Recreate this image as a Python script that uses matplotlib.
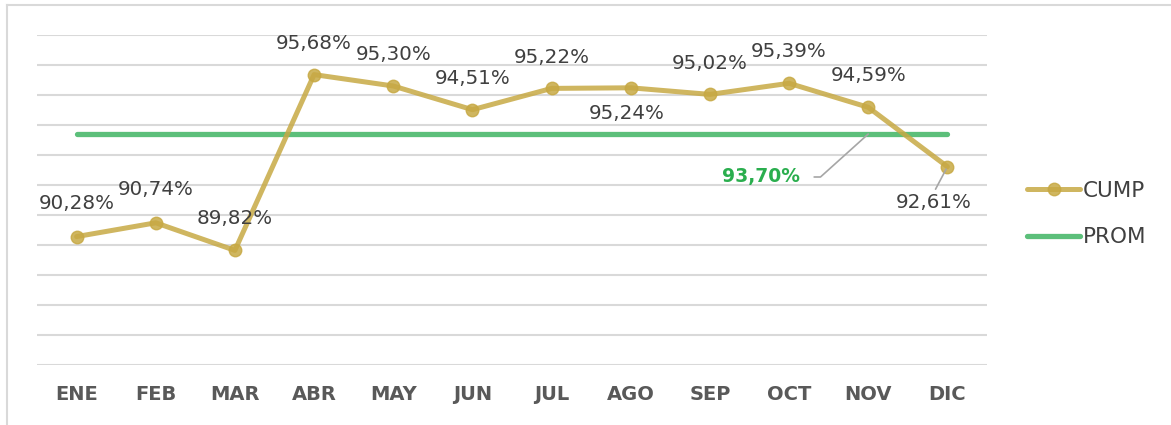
import matplotlib
matplotlib.use("Agg")
import matplotlib.pyplot as plt
from matplotlib.lines import Line2D

months = ["ENE", "FEB", "MAR", "ABR", "MAY", "JUN", "JUL", "AGO", "SEP", "OCT", "NOV", "DIC"]
cump = [90.28, 90.74, 89.82, 95.68, 95.30, 94.51, 95.22, 95.24, 95.02, 95.39, 94.59, 92.61]
prom_value = 93.70
prom = [prom_value] * len(months)

# label offsets in pixels (dx, dy)
offsets = [(0, 33), (0, 33), (0, 32), (0, 31), (0, 31), (0, 31), (0, 31),
           (-4, -26), (0, 31), (0, 32), (0, 32), (-14, -36)]

def fmt(v):
    return f"{v:.2f}".replace(".", ",") + "%"

W, H = 1171, 425
fig = plt.figure(figsize=(W / 100, H / 100), dpi=100)
fig.patch.set_facecolor("white")

# outer border (top and left visible)
fig.add_artist(Line2D([7 / W, 7 / W], [0, 1 - 5 / H], color="#D9D9D9", lw=1.5, transform=fig.transFigure))
fig.add_artist(Line2D([7 / W, 1], [1 - 5 / H, 1 - 5 / H], color="#D9D9D9", lw=1.5, transform=fig.transFigure))

ax = fig.add_axes([37 / W, 1 - 365 / H, (987 - 37) / W, (365 - 35) / H])
ax.set_xlim(-0.5, len(months) - 0.5)
ax.set_ylim(86, 97)
ax.set_yticks(range(86, 98))
ax.yaxis.grid(True, color="#D9D9D9", lw=1.5)
ax.set_axisbelow(True)
for s in ax.spines.values():
    s.set_visible(False)
ax.tick_params(axis="y", left=False, labelleft=False)
ax.tick_params(axis="x", bottom=False, pad=11)
x = list(range(len(months)))
ax.set_xticks(x)
ax.set_xticklabels(months, fontsize=14, fontweight="bold", color="#595959")

gold = "#C7A944"
green = "#5CBF7A"
l_prom, = ax.plot(x, prom, color=green, lw=3.8, solid_capstyle="round", label="PROM", zorder=2)
l_cump, = ax.plot(x, cump, color=gold, lw=3.6, alpha=0.85, marker="o", markersize=9,
                  markerfacecolor=gold, markeredgecolor=gold, solid_capstyle="round",
                  label="CUMP", zorder=3)

lab_fs = 14.3
for i, (v, (dx, dy)) in enumerate(zip(cump, offsets)):
    if i == len(cump) - 1:
        ax.annotate(fmt(v), xy=(i, v), xytext=(dx, dy), textcoords="offset pixels",
                    ha="center", va="center", fontsize=lab_fs, color="#404040",
                    arrowprops=dict(arrowstyle="-", color="#A6A6A6", lw=1.2,
                                    relpos=(0.5, 1.0), shrinkA=1, shrinkB=2), zorder=5)
    else:
        ax.annotate(fmt(v), xy=(i, v), xytext=(dx, dy), textcoords="offset pixels",
                    ha="center", va="center", fontsize=lab_fs, color="#404040", zorder=5)

ax.annotate(fmt(prom_value), xy=(10, prom_value), xytext=(-107, -43), textcoords="offset pixels",
            ha="center", va="center", fontsize=13.5, fontweight="bold", color="#2AAE4E",
            arrowprops=dict(arrowstyle="-", color="#A6A6A6", lw=1.2, relpos=(1.0, 0.5),
                            shrinkA=8, shrinkB=0,
                            connectionstyle="angle,angleA=0,angleB=42,rad=0"), zorder=5)

leg = fig.legend(handles=[l_cump, l_prom], labels=["CUMP", "PROM"],
                 loc="center left", bbox_to_anchor=(1018 / W, 1 - 214 / H),
                 frameon=False, fontsize=15.5, handlelength=2.5, handletextpad=0.1,
                 labelspacing=1.22, borderaxespad=0)
for t in leg.get_texts():
    t.set_color("#404040")

fig.savefig("out.png", dpi=100, facecolor="white")
